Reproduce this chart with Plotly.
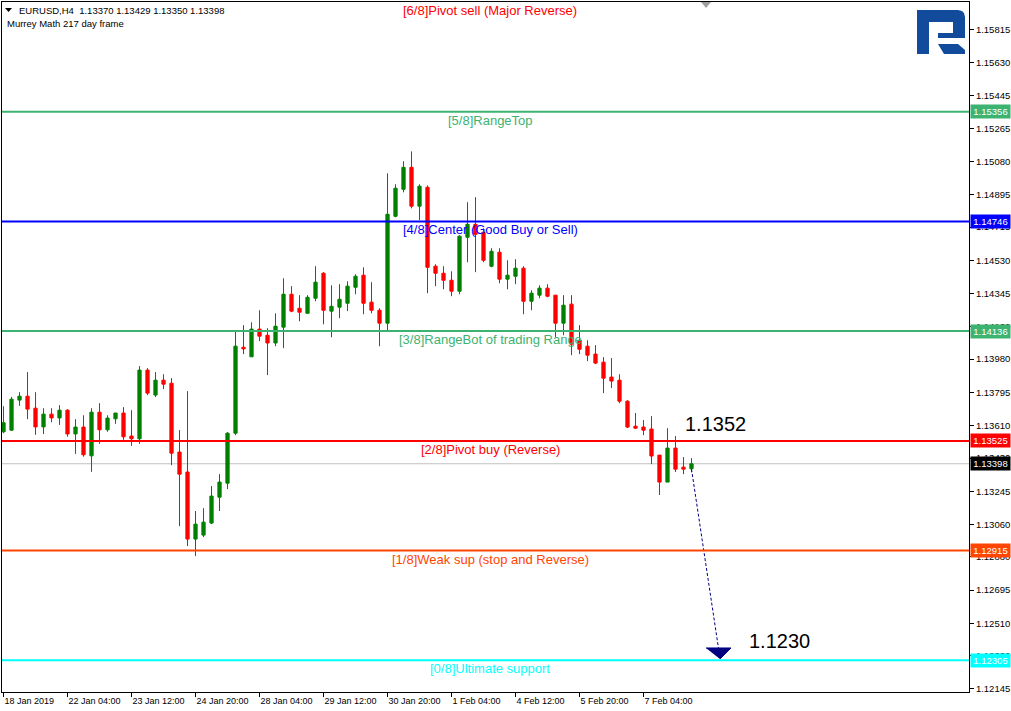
import plotly.graph_objects as go

# ---------------- data ----------------
bar_index = list(range(87))
opens = [1.13576, 1.13585, 1.13752, 1.13774, 1.13707, 1.13603, 1.13674, 1.13653, 1.13696, 1.13564,
         1.13602, 1.13442, 1.13685, 1.13587, 1.13648, 1.13680, 1.13552, 1.13537, 1.13919, 1.13780,
         1.13863, 1.13846, 1.13463, 1.13352, 1.12979, 1.13001, 1.13068, 1.13212, 1.13290, 1.13568,
         1.14046, 1.13993, 1.14147, 1.14113, 1.14070, 1.14158, 1.14341, 1.14263, 1.14235, 1.14319,
         1.14458, 1.14247, 1.14269, 1.14291, 1.14380, 1.14447, 1.14297, 1.14252, 1.14180, 1.14775,
         1.14925, 1.15047, 1.14831, 1.14936, 1.14497, 1.14458, 1.14419, 1.14358, 1.14658, 1.14730,
         1.14686, 1.14497, 1.14575, 1.14425, 1.14441, 1.14486, 1.14302, 1.14336, 1.14375, 1.14336,
         1.14180, 1.14286, 1.14085, 1.14052, 1.14008, 1.13963, 1.13880, 1.13863, 1.13746, 1.13607,
         1.13602, 1.13591, 1.13446, 1.13296, 1.13485, 1.13379, 1.13370]
highs = [1.13718, 1.13770, 1.13796, 1.13908, 1.13796, 1.13707, 1.13707, 1.13724, 1.13702, 1.13646,
         1.13668, 1.13707, 1.13735, 1.13668, 1.13681, 1.13713, 1.13696, 1.13941, 1.13930, 1.13908,
         1.13896, 1.13874, 1.13585, 1.13802, 1.13135, 1.13151, 1.13274, 1.13340, 1.13574, 1.14132,
         1.14169, 1.14185, 1.14252, 1.14152, 1.14235, 1.14430, 1.14386, 1.14336, 1.14336, 1.14497,
         1.14464, 1.14391, 1.14397, 1.14413, 1.14452, 1.14491, 1.14408, 1.14263, 1.15014, 1.14953,
         1.15081, 1.15136, 1.14953, 1.14947, 1.14508, 1.14497, 1.14469, 1.14669, 1.14853, 1.14881,
         1.14708, 1.14597, 1.14597, 1.14530, 1.14536, 1.14497, 1.14363, 1.14391, 1.14397, 1.14336,
         1.14336, 1.14336, 1.14169, 1.14085, 1.14058, 1.13991, 1.13986, 1.13896, 1.13752, 1.13680,
         1.13641, 1.13663, 1.13446, 1.13596, 1.13552, 1.13435, 1.13429]
lows = [1.13568, 1.13582, 1.13720, 1.13646, 1.13559, 1.13563, 1.13629, 1.13614, 1.13548, 1.13453,
        1.13437, 1.13353, 1.13509, 1.13576, 1.13620, 1.13531, 1.13498, 1.13509, 1.13780, 1.13769,
        1.13813, 1.13390, 1.13051, 1.12940, 1.12884, 1.12990, 1.13062, 1.13135, 1.13257, 1.13557,
        1.14008, 1.13993, 1.14080, 1.13891, 1.14052, 1.14041, 1.14241, 1.14191, 1.14235, 1.14302,
        1.14174, 1.14102, 1.14208, 1.14247, 1.14341, 1.14230, 1.14235, 1.14052, 1.14141, 1.14769,
        1.14908, 1.14819, 1.14753, 1.14347, 1.14386, 1.14369, 1.14330, 1.14341, 1.14519, 1.14464,
        1.14519, 1.14491, 1.14402, 1.14369, 1.14397, 1.14230, 1.14252, 1.14319, 1.14324, 1.14102,
        1.14113, 1.14002, 1.14008, 1.13969, 1.13952, 1.13791, 1.13819, 1.13735, 1.13596, 1.13591,
        1.13557, 1.13396, 1.13224, 1.13296, 1.13352, 1.13340, 1.13350]
closes = [1.13626, 1.13757, 1.13774, 1.13702, 1.13603, 1.13674, 1.13653, 1.13696, 1.13564, 1.13602,
          1.13448, 1.13685, 1.13587, 1.13652, 1.13680, 1.13548, 1.13537, 1.13919, 1.13791, 1.13863,
          1.13841, 1.13457, 1.13340, 1.12979, 1.13062, 1.13073, 1.13218, 1.13296, 1.13568, 1.14052,
          1.14037, 1.14147, 1.14108, 1.14070, 1.14163, 1.14341, 1.14247, 1.14241, 1.14324, 1.14408,
          1.14252, 1.14274, 1.14313, 1.14386, 1.14441, 1.14291, 1.14252, 1.14180, 1.14786, 1.14931,
          1.15047, 1.14831, 1.14942, 1.14491, 1.14458, 1.14419, 1.14358, 1.14664, 1.14730, 1.14675,
          1.14530, 1.14580, 1.14425, 1.14447, 1.14486, 1.14302, 1.14347, 1.14375, 1.14330, 1.14180,
          1.14280, 1.14063, 1.14035, 1.14002, 1.13958, 1.13874, 1.13858, 1.13746, 1.13602, 1.13596,
          1.13585, 1.13441, 1.13296, 1.13485, 1.13368, 1.13368, 1.13398]

x_tick_index = [0, 8, 16, 24, 32, 40, 48, 56, 64, 72, 80]
x_tick_text = ["18 Jan 2019", "22 Jan 04:00", "23 Jan 12:00", "24 Jan 20:00", "28 Jan 04:00",
               "29 Jan 12:00", "30 Jan 20:00", "1 Feb 04:00", "4 Feb 12:00", "5 Feb 20:00", "7 Feb 04:00"]

price_ticks = [1.15815, 1.15630, 1.15445, 1.15265, 1.15080, 1.14895, 1.14715, 1.14530, 1.14345,
               1.14160, 1.13980, 1.13795, 1.13610, 1.13430, 1.13245, 1.13060, 1.12880, 1.12695,
               1.12510, 1.12330, 1.12145]
price_tick_text = ["1.15815", "1.15630", "1.15445", "1.15265", "1.15080", "1.14895", "1.14715",
                   "1.14530", "1.14345", "1.14160", "1.13980", "1.13795", "1.13610", "1.13430",
                   "1.13245", "1.13060", "1.12880", "1.12695", "1.12510", "1.12330", "1.12145"]

level_names = ["[6/8]Pivot sell (Major Reverse)", "[5/8]RangeTop", "[4/8]Center (Good Buy or Sell)",
               "[3/8]RangeBot of trading Range", "[2/8]Pivot buy (Reverse)",
               "[1/8]Weak sup (stop and Reverse)", "[0/8]Ultimate support"]
level_values = [1.15966, 1.15356, 1.14746, 1.14136, 1.13525, 1.12915, 1.12305]
level_colors = ["#FF0000", "#3CB371", "#0000FF", "#3CB371", "#FF0000", "#FF4500", "#00FFFF"]
level_visible = [False, True, True, True, True, True, True]

current_price = 1.13398

target_texts = ["1.1352", "1.1230"]
target_values = [1.13525, 1.12305]
target_index = [88.94, 96.94]
target_shift = [4, 6]

forecast_index = [86, 89.56]
forecast_price = [1.13368, 1.12317]
arrow_head_index = [87.81, 90.94, 89.56]
arrow_head_price = [1.12373, 1.12373, 1.12312]

# ---------------- layout geometry ----------------
W, H = 1011, 711
ML, MR, MT, MB = 2, 42, 2, 19
PW, PH = W - ML - MR, H - MT - MB


def px(x):
    return (x - ML) / PW


def py(y):
    return (H - MB - y) / PH


def path(points):
    return "M" + " L".join(f"{px(a):.5f},{py(b):.5f}" for a, b in points) + " Z"


FONT = "Liberation Sans, Arial, sans-serif"

fig = go.Figure()

fig.add_trace(go.Candlestick(
    x=bar_index, open=opens, high=highs, low=lows, close=closes,
    increasing=dict(line=dict(color="#008000", width=1), fillcolor="#008000"),
    decreasing=dict(line=dict(color="#FF0000", width=1), fillcolor="#FF0000"),
    whiskerwidth=0, showlegend=False, hoverinfo="skip",
))

# forecast dashed line and arrow head
fig.add_trace(go.Scatter(
    x=forecast_index, y=forecast_price, mode="lines",
    line=dict(color="#000080", width=1, dash="3px,2px"),
    showlegend=False, hoverinfo="skip",
))
fig.add_trace(go.Scatter(
    x=arrow_head_index, y=arrow_head_price, mode="lines", fill="toself",
    fillcolor="#000080", line=dict(color="#000080", width=1),
    showlegend=False, hoverinfo="skip",
))

shapes = []
annotations = []

# current price line
shapes.append(dict(type="line", xref="paper", x0=0, x1=1, yref="y", y0=current_price, y1=current_price,
                   line=dict(color="#C0C0C0", width=1), layer="below"))

for name, val, col, vis in zip(level_names, level_values, level_colors, level_visible):
    if vis:
        shapes.append(dict(type="line", xref="paper", x0=0, x1=1, yref="y", y0=val, y1=val,
                           line=dict(color=col, width=2), layer="above"))
        annotations.append(dict(xref="paper", x=1, xanchor="left", xshift=1, yref="y", y=val,
                                yanchor="middle", text=f"{val:.5f}", showarrow=False,
                                bgcolor=col, borderpad=1, width=37, height=11, align="center",
                                font=dict(family=FONT, size=9.5, color="#FFFFFF")))
    annotations.append(dict(xref="paper", x=px(490), yref="y", y=val, yanchor="top", xanchor="center",
                            yshift=1, text=name, showarrow=False,
                            font=dict(family=FONT, size=13, color=col)))

annotations.append(dict(xref="paper", x=1, xanchor="left", xshift=1, yref="y", y=current_price,
                        yanchor="middle", text=f"{current_price:.5f}", showarrow=False,
                        bgcolor="#000000", borderpad=1, width=37, height=11, align="center",
                        font=dict(family=FONT, size=9.5, color="#FFFFFF")))

for t, v, i, s in zip(target_texts, target_values, target_index, target_shift):
    annotations.append(dict(xref="x", x=i, yref="y", y=v, yanchor="bottom", xanchor="center",
                            yshift=s, text=t, showarrow=False,
                            font=dict(family=FONT, size=20, color="#000000")))

# header texts
annotations.append(dict(xref="paper", x=px(17), yref="paper", y=py(10), xanchor="left", yanchor="middle",
                        text="EURUSD,H4  1.13370 1.13429 1.13350 1.13398", showarrow=False,
                        font=dict(family=FONT, size=9.5, color="#000000")))
annotations.append(dict(xref="paper", x=px(5), yref="paper", y=py(24), xanchor="left", yanchor="middle",
                        text="Murrey Math 217 day frame", showarrow=False,
                        font=dict(family=FONT, size=9.5, color="#000000")))

# decorative shapes (header marker, chart shift marker, logo)
shapes.append(dict(type="path", xref="paper", yref="paper",
                   path=path([(5, 8), (12, 8), (8.5, 12)]),
                   fillcolor="#000000", line=dict(width=0)))
shapes.append(dict(type="path", xref="paper", yref="paper",
                   path=path([(701, 2), (711, 2), (706, 8)]),
                   fillcolor="#A0A0A0", line=dict(width=0)))
shapes.append(dict(type="path", xref="paper", yref="paper",
                   path=path([(917, 10), (958, 10), (962, 11), (964, 13), (965, 17), (965, 38),
                              (938, 38), (938, 33), (953, 33), (953, 22), (929, 22), (929, 54), (917, 54)]),
                   fillcolor="#124A9C", line=dict(width=0)))
shapes.append(dict(type="path", xref="paper", yref="paper",
                   path=path([(938, 44), (958, 44), (965, 50), (965, 54), (944, 54)]),
                   fillcolor="#124A9C", line=dict(width=0)))

fig.update_layout(
    width=W, height=H,
    margin=dict(l=ML, r=MR, t=MT, b=MB, pad=0, autoexpand=False),
    paper_bgcolor="#FFFFFF", plot_bgcolor="#FFFFFF",
    showlegend=False,
    shapes=shapes, annotations=annotations,
    boxgap=0.42,
    font=dict(family=FONT, size=9.5, color="#000000"),
    xaxis=dict(
        range=[-0.19, 120.69], rangeslider=dict(visible=False),
        tickmode="array", tickvals=x_tick_index, ticktext=x_tick_text,
        ticks="outside", ticklen=4, tickcolor="#000000", tickwidth=1,
        ticklabelposition="outside right", tickangle=0, automargin=False,
        showgrid=False, zeroline=False, showline=True, mirror=True,
        linecolor="#000000", linewidth=1,
        tickfont=dict(family=FONT, size=9, color="#000000"),
    ),
    yaxis=dict(
        range=[1.121281, 1.15967], side="right", automargin=False,
        tickmode="array", tickvals=price_ticks, ticktext=price_tick_text,
        ticks="outside", ticklen=4, tickcolor="#000000", tickwidth=1,
        showgrid=False, zeroline=False, showline=True, mirror=True,
        linecolor="#000000", linewidth=1,
        tickfont=dict(family=FONT, size=9.5, color="#000000"),
    ),
)

fig.write_html("out.html", config={"displayModeBar": False},
               post_script="document.body.style.margin='0';document.body.style.overflow='hidden';")
